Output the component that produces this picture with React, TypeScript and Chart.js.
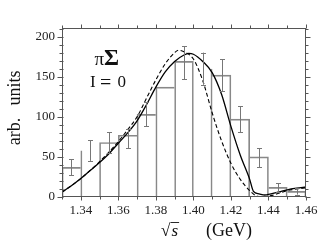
import React, { useEffect, useRef } from 'react';
import { Chart, registerables } from 'chart.js';

Chart.register(...registerables);

// ---- data ----
const binCenters = [1.335, 1.345, 1.355, 1.365, 1.375, 1.385, 1.395, 1.405, 1.415, 1.425, 1.435, 1.445, 1.455];
const binValues = [37, 58, 68, 77, 103, 137, 169, 160, 152, 97, 50, 12, 7];
const binTopDrawn = [true, false, true, true, true, true, true, false, true, true, true, true, true];
const errLow: (number | null)[] = [27, 45, 55, 61, 88, null, 147, 140, 132, 81, 37, 6, 3];
const errHigh: (number | null)[] = [47, 71, 81, 85, 118, null, 188, 180, 172, 113, 61, 17, 11];

const solidX = [1.330, 1.335, 1.340, 1.345, 1.350, 1.355, 1.360, 1.365, 1.370, 1.375, 1.380, 1.385, 1.390, 1.395, 1.3975, 1.400, 1.405, 1.410, 1.415, 1.420, 1.425, 1.430, 1.432, 1.435, 1.438, 1.445, 1.450, 1.455, 1.460];
const solidY = [6, 14, 23, 33, 43, 54, 67, 80, 95, 115, 137, 156, 169, 177, 179, 178, 169, 155, 128, 88, 52, 22, 7, 4, 2.5, 6, 9, 11, 12.5];

const dashedX = [1.330, 1.335, 1.340, 1.345, 1.350, 1.355, 1.360, 1.365, 1.370, 1.375, 1.380, 1.385, 1.390, 1.392, 1.395, 1.400, 1.405, 1.410, 1.415, 1.420, 1.425, 1.430, 1.434, 1.438, 1.442, 1.446, 1.450, 1.455, 1.460];
const dashedY = [6, 14, 23, 33, 44, 56, 69, 84, 100, 123, 146, 166, 180, 183, 181, 172, 145, 105, 70, 42, 22, 8, 1, 0.5, 2, 5, 8, 10, 11.5];

const xTickValues = [1.34, 1.36, 1.38, 1.40, 1.42, 1.44, 1.46];
const xTickLabels = ['1.34', '1.36', '1.38', '1.40', '1.42', '1.44', '1.46'];
const xMinorTickValues = [1.33, 1.35, 1.37, 1.39, 1.41, 1.43, 1.45];
const yTickValues = [0, 50, 100, 150, 200];
const yTickLabels = ['0', '50', '100', '150', '200'];
const yMinorTickValues = [10, 20, 30, 40, 60, 70, 80, 90, 110, 120, 130, 140, 160, 170, 180, 190, 210];

const xMin = 1.33;
const xMax = 1.46;
const yMin = 0;
const yMax = 210.7;

const SERIF = '"Liberation Serif", "Times New Roman", serif';

// each shared bin edge is drawn once, by the taller of the two neighbouring bars
const barBorder = (i: number) => {
  const n = binValues.length;
  const v = binValues[i];
  const left = i === 0 || binValues[i - 1] <= v ? 1 : 0;
  const right = i === n - 1 || binValues[i + 1] < v ? 1 : 0;
  return { top: binTopDrawn[i] ? 1 : 0, left, right, bottom: 0 };
};

const framePlugin = {
  id: 'frameTicks',
  afterDatasetsDraw(chart: any) {
    const { ctx, chartArea: a, scales } = chart;
    const x = scales.x;
    const y = scales.y;
    ctx.save();
    // error bars
    ctx.strokeStyle = '#777';
    ctx.lineWidth = 1;
    binCenters.forEach((c, i) => {
      const lo = errLow[i];
      const hi = errHigh[i];
      if (lo == null || hi == null) return;
      const px = Math.round(x.getPixelForValue(c)) + 0.5;
      const pl = y.getPixelForValue(lo);
      const ph = y.getPixelForValue(hi);
      ctx.beginPath();
      ctx.moveTo(px, pl);
      ctx.lineTo(px, ph);
      ctx.moveTo(px - 2.5, Math.round(pl) + 0.5);
      ctx.lineTo(px + 2.5, Math.round(pl) + 0.5);
      ctx.moveTo(px - 2.5, Math.round(ph) + 0.5);
      ctx.lineTo(px + 2.5, Math.round(ph) + 0.5);
      ctx.stroke();
    });
    // frame
    ctx.strokeStyle = '#555';
    const L = Math.round(a.left) + 0.5;
    const R = Math.round(a.right) - 0.5;
    const T = Math.round(a.top) + 0.5;
    const B = Math.round(a.bottom) - 0.5;
    ctx.strokeRect(L, T, R - L, B - T);
    ctx.beginPath();
    const xt = (vals: number[], len: number) => {
      vals.forEach((v) => {
        const p = Math.round(x.getPixelForValue(v)) + 0.5;
        ctx.moveTo(p, B);
        ctx.lineTo(p, B + len);
        ctx.moveTo(p, T);
        ctx.lineTo(p, T - len);
      });
    };
    const yt = (vals: number[], len: number, inLen: number) => {
      vals.forEach((v) => {
        const p = Math.round(y.getPixelForValue(v)) + 0.5;
        ctx.moveTo(L - len, p);
        ctx.lineTo(L + inLen, p);
        ctx.moveTo(R, p);
        ctx.lineTo(R + len, p);
      });
    };
    xt(xTickValues, 4);
    xt(xMinorTickValues, 3);
    yt(yTickValues, 5, 1);
    yt(yMinorTickValues, 3, 1);
    ctx.stroke();
    ctx.restore();
  },
  afterDraw(chart: any) {
    const { ctx } = chart;
    ctx.save();
    ctx.fillStyle = '#111';
    ctx.strokeStyle = '#111';
    ctx.textBaseline = 'alphabetic';
    ctx.textAlign = 'left';
    // pi Sigma
    ctx.font = `19px ${SERIF}`;
    ctx.fillText('π', 94.5, 65);
    ctx.font = `bold 23px ${SERIF}`;
    ctx.fillText('Σ', 104, 65);
    // I = 0
    ctx.font = `17px ${SERIF}`;
    ctx.fillText('I', 90, 87);
    ctx.font = `20px ${SERIF}`;
    ctx.fillText('=', 100, 88.5);
    ctx.font = `17px ${SERIF}`;
    ctx.fillText('0', 117.5, 87);
    // x title: sqrt(s)  (GeV)
    ctx.font = `17px ${SERIF}`;
    const rx = 161;
    const base = 236;
    ctx.fillText('√', rx, base);
    const m = ctx.measureText('√');
    const topY = base - m.actualBoundingBoxAscent;
    const rEnd = rx + m.actualBoundingBoxRight;
    ctx.font = `italic 17px ${SERIF}`;
    ctx.fillText('s', rEnd + 0.5, base);
    const sW = ctx.measureText('s').width;
    ctx.lineWidth = 0.9;
    ctx.beginPath();
    ctx.moveTo(rEnd - 0.5, topY + 0.5);
    ctx.lineTo(rEnd + sW + 1.5, topY + 0.5);
    ctx.stroke();
    ctx.font = `18px ${SERIF}`;
    ctx.fillText('(GeV)', 206, base);
    // y title
    ctx.save();
    ctx.translate(20, 0);
    ctx.rotate(-Math.PI / 2);
    ctx.font = `18px ${SERIF}`;
    ctx.textAlign = 'center';
    ctx.fillText('units', -88, 0);
    ctx.fillText('arb.', -131.5, 0);
    ctx.restore();
    ctx.restore();
  },
};

export default function App() {
  const ref = useRef<HTMLCanvasElement | null>(null);
  useEffect(() => {
    if (!ref.current) return;
    const chart = new Chart(ref.current, {
      type: 'bar',
      data: {
        datasets: [
          {
            type: 'line',
            label: 'solid',
            data: solidX.map((v, i) => ({ x: v, y: solidY[i] })),
            borderColor: '#000',
            borderWidth: 1.3,
            pointRadius: 0,
            cubicInterpolationMode: 'monotone',
            fill: false,
            order: 1,
          } as any,
          {
            type: 'line',
            label: 'dashed',
            data: dashedX.map((v, i) => ({ x: v, y: dashedY[i] })),
            borderColor: '#000',
            borderWidth: 1.1,
            borderDash: [4, 2.5],
            pointRadius: 0,
            cubicInterpolationMode: 'monotone',
            fill: false,
            order: 1,
          } as any,
          {
            type: 'bar',
            label: 'hist',
            data: binCenters.map((v, i) => ({ x: v, y: binValues[i] })),
            backgroundColor: 'rgba(0,0,0,0)',
            borderColor: '#888',
            borderWidth: (c: any) => barBorder(c.dataIndex),
            borderSkipped: false,
            barPercentage: 1,
            categoryPercentage: 1,
            grouped: false,
            order: 2,
          } as any,
        ],
      },
      options: {
        animation: false,
        responsive: false,
        maintainAspectRatio: false,
        events: [],
        layout: { padding: { top: 28, right: 21, left: 0, bottom: 0 } },
        plugins: { legend: { display: false }, tooltip: { enabled: false } },
        scales: {
          x: {
            type: 'linear',
            min: xMin,
            max: xMax,
            offset: false,
            grid: { display: false, drawTicks: false },
            border: { display: false },
            afterBuildTicks: (s: any) => {
              s.ticks = xTickValues.map((v) => ({ value: v }));
            },
            afterFit: (s: any) => {
              s.height = 48;
            },
            ticks: {
              autoSkip: false,
              maxRotation: 0,
              padding: 6,
              color: '#222',
              font: { family: SERIF, size: 13 },
              callback: (_v: any, i: number) => xTickLabels[i],
            },
          },
          y: {
            type: 'linear',
            min: yMin,
            max: yMax,
            grid: { display: false, drawTicks: false },
            border: { display: false },
            afterBuildTicks: (s: any) => {
              s.ticks = yTickValues.map((v) => ({ value: v }));
            },
            afterFit: (s: any) => {
              s.width = 62;
            },
            ticks: {
              padding: 7,
              color: '#222',
              font: { family: SERIF, size: 13 },
              callback: (_v: any, i: number) => yTickLabels[i],
            },
          },
        },
      },
      plugins: [framePlugin],
    });
    return () => chart.destroy();
  }, []);
  return (
    <div style={{ position: 'fixed', left: 0, top: 0, width: 327, height: 245, background: '#fff' }}>
      <canvas ref={ref} width={327} height={245} />
    </div>
  );
}
